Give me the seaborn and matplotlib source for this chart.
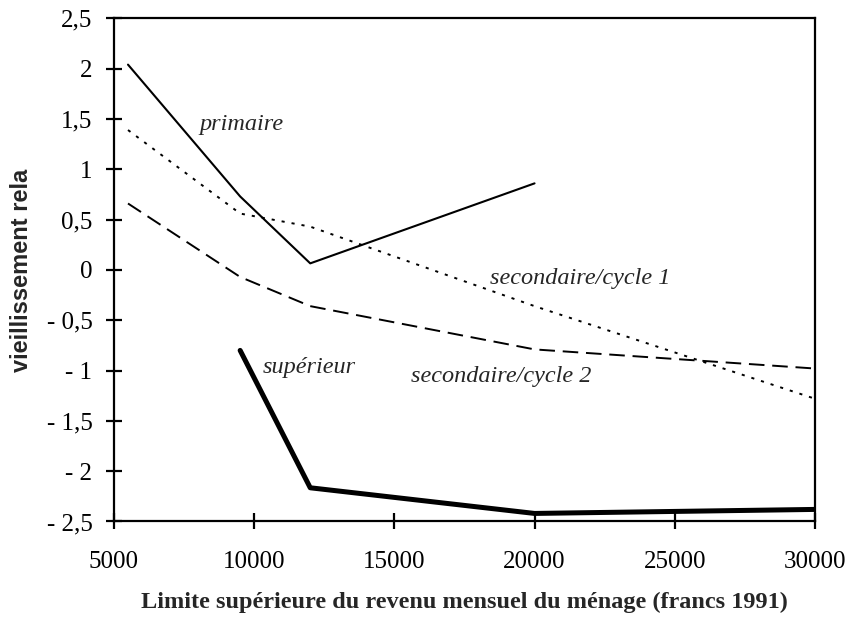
import matplotlib
matplotlib.use("Agg")
import matplotlib.pyplot as plt
import seaborn as sns
import pandas as pd

# Data
revenu = [5500, 9500, 12000, 20000, 30000]
primaire = [2.04, 0.73, 0.065, 0.86]
sec_cycle1 = [1.39, 0.56, 0.43, -0.36, -1.28]
sec_cycle2 = [0.66, -0.07, -0.36, -0.79, -0.98]
superieur_x = [9500, 12000, 20000, 30000]
superieur = [-0.80, -2.165, -2.42, -2.38]

xticks = [5000, 10000, 15000, 20000, 25000, 30000]
yticks = [2.5, 2, 1.5, 1, 0.5, 0, -0.5, -1, -1.5, -2, -2.5]
ytick_labels = ["2,5", "2", "1,5", "1", "0,5", "0", "- 0,5", "- 1", "- 1,5", "- 2", "- 2,5"]

sns.set_style("white")
plt.rcParams['font.family'] = ['Liberation Serif', 'DejaVu Serif']

fig = plt.figure(figsize=(8.48, 6.17), dpi=100)
ax = fig.add_axes([0.1344, 0.1548, 0.8266, 0.8155])

sns.lineplot(x=revenu[:4], y=primaire, ax=ax, color='black', linewidth=1.5,
             linestyle='-', sort=False)
sns.lineplot(x=revenu, y=sec_cycle1, ax=ax, color='black', linewidth=1.4,
             linestyle=(0, (1.6, 3.6)), sort=False)
sns.lineplot(x=revenu, y=sec_cycle2, ax=ax, color='black', linewidth=1.4,
             linestyle=(0, (8, 4)), sort=False)
sns.lineplot(x=superieur_x, y=superieur, ax=ax, color='black', linewidth=3.6,
             linestyle='-', sort=False)

ax.set_xlim(5000, 30000)
ax.set_ylim(-2.5, 2.5)
ax.set_xticks(xticks)
ax.set_xticklabels([str(v) for v in xticks])
ax.set_yticks(yticks)
ax.set_yticklabels(ytick_labels)

for s in ax.spines.values():
    s.set_visible(True)
    s.set_color('black')
    s.set_linewidth(1.6)

ax.tick_params(axis='both', which='major', direction='inout', length=11,
               width=1.6, colors='black', labelsize=18, top=False, right=False,
               left=True, bottom=True)
ax.tick_params(axis='x', pad=16)
ax.tick_params(axis='y', pad=10)

ax.set_xlabel("Limite supérieure du revenu mensuel du ménage (francs 1991)",
              fontsize=17.5, fontweight='bold', labelpad=13)
ax.set_ylabel("vieillissement rela", fontsize=17, fontweight='bold',
              family=['Liberation Sans', 'DejaVu Sans'], labelpad=10)

ax.text(9550, 1.44, "primaire", fontsize=17.5, style='italic', ha='center', va='center')
ax.text(21640, -0.09, "secondaire/cycle 1", fontsize=17.5, style='italic', ha='center', va='center')
ax.text(18820, -1.06, "secondaire/cycle 2", fontsize=17.5, style='italic', ha='center', va='center')
ax.text(11960, -0.97, "supérieur", fontsize=17.5, style='italic', ha='center', va='center')

fig.savefig("out.png", dpi=100)
